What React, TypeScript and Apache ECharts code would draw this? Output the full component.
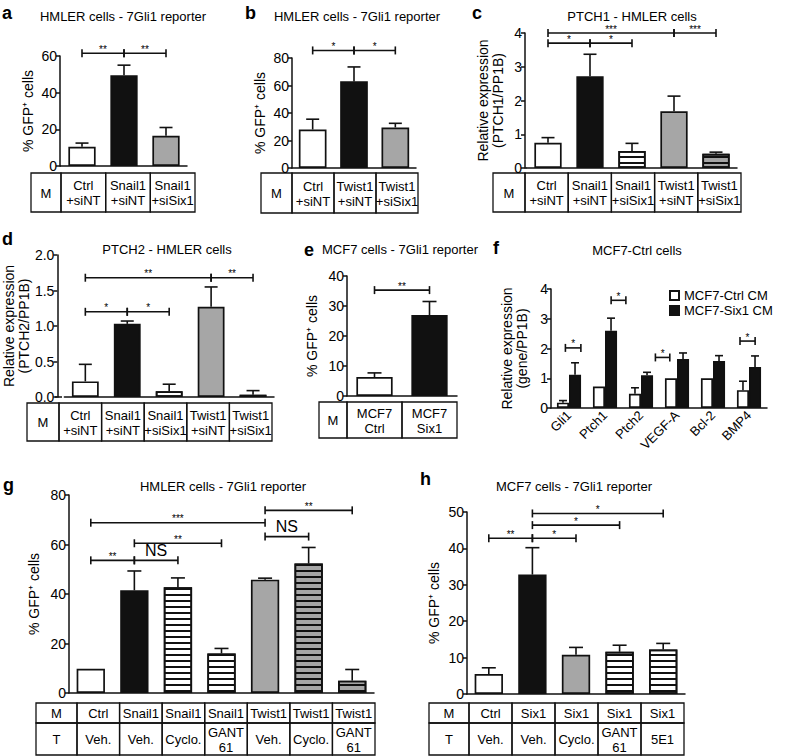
import React, { useEffect, useRef } from 'react';
import * as echarts from 'echarts';

const FONT = '"Liberation Sans", Arial, Helvetica, sans-serif';

// ---------- Panel a ----------
const aCategories = ['Ctrl\n+siNT', 'Snail1\n+siNT', 'Snail1\n+siSix1'];
const aMeans = [10.5, 49.5, 16.5];
const aErrors = [2, 5.5, 4.5];
const aFills = ['white', 'black', 'grey'];
const aTicks = [0, 20, 40, 60];
const aBrackets: [number, number, number, string][] = [[0, 1, 61.5, '**'], [1, 2, 61.5, '**']];

// ---------- Panel b ----------
const bCategories = ['Ctrl\n+siNT', 'Twist1\n+siNT', 'Twist1\n+siSix1'];
const bMeans = [28, 63, 29.5];
const bErrors = [7.5, 10.5, 3];
const bFills = ['white', 'black', 'grey'];
const bTicks = [0, 20, 40, 60, 80];
const bBrackets: [number, number, number, string][] = [[0, 1, 85.5, '*'], [1, 2, 85.5, '*']];

// ---------- Panel c ----------
const cCategories = ['Ctrl\n+siNT', 'Snail1\n+siNT', 'Snail1\n+siSix1', 'Twist1\n+siNT', 'Twist1\n+siSix1'];
const cMeans = [0.75, 2.72, 0.5, 1.68, 0.42];
const cErrors = [0.15, 0.65, 0.23, 0.45, 0.05];
const cFills = ['white', 'black', 'stripe', 'grey', 'greyStripe'];
const cTicks = [0, 1, 2, 3, 4];
const cBrackets: [number, number, number, string][] = [
  [0, 3, 4.0, '***'], [3, 4, 4.0, '***'], [0, 1, 3.7, '*'], [1, 2, 3.7, '*'],
];

// ---------- Panel d ----------
const dCategories = ['Ctrl\n+siNT', 'Snail1\n+siNT', 'Snail1\n+siSix1', 'Twist1\n+siNT', 'Twist1\n+siSix1'];
const dMeans = [0.22, 1.03, 0.08, 1.27, 0.03];
const dErrors = [0.24, 0.04, 0.1, 0.28, 0.06];
const dFills = ['white', 'black', 'stripe', 'grey', 'greyStripe'];
const dTicks = [0, 0.5, 1.0, 1.5, 2.0];
const dBrackets: [number, number, number, string][] = [
  [0, 3, 1.68, '**'], [3, 4, 1.68, '**'], [0, 1, 1.2, '*'], [1, 2, 1.2, '*'],
];

// ---------- Panel e ----------
const eCategories = ['MCF7\nCtrl', 'MCF7\nSix1'];
const eMeans = [6.3, 27];
const eErrors = [1.4, 4.5];
const eFills = ['white', 'black'];
const eTicks = [0, 10, 20, 30, 40];
const eBrackets: [number, number, number, string][] = [[0, 1, 35.3, '**']];

// ---------- Panel f ----------
const fCategories = ['Gli1', 'Ptch1', 'Ptch2', 'VEGF-A', 'Bcl-2', 'BMP4'];
const fCtrlMeans = [0.18, 0.72, 0.48, 1.0, 1.0, 0.6];
const fCtrlErrors = [0.07, 0, 0.2, 0, 0, 0.3];
const fSix1Means = [1.12, 2.6, 1.1, 1.65, 1.58, 1.38];
const fSix1Errors = [0.4, 0.42, 0.1, 0.2, 0.18, 0.37];
const fSeriesNames = ['MCF7-Ctrl CM', 'MCF7-Six1 CM'];
const fTicks = [0, 1, 2, 3, 4];
const fBrackets: [number, number, number, string][] = [
  [-0.1, 0.33, 2.02, '*'], [1.17, 1.58, 3.62, '*'], [2.4, 2.8, 1.7, '*'], [4.75, 5.17, 2.25, '*'],
];

// ---------- Panel g ----------
const gMRow = ['Ctrl', 'Snail1', 'Snail1', 'Snail1', 'Twist1', 'Twist1', 'Twist1'];
const gTRow = ['Veh.', 'Veh.', 'Cyclo.', 'GANT\n61', 'Veh.', 'Cyclo.', 'GANT\n61'];
const gMeans = [9.8, 41.5, 42.7, 16, 45.8, 52.3, 5];
const gErrors = [0, 7.8, 3.8, 2, 0.6, 6.5, 4.5];
const gFills = ['white', 'black', 'stripe', 'stripe', 'grey', 'greyStripe', 'greyStripe'];
const gTicks = [0, 20, 40, 60, 80];
const gBrackets: [number, number, number, string][] = [
  [4, 6, 73.8, '**'], [0, 4, 68.8, '***'], [4, 5, 63.2, 'NS'],
  [1, 3, 60.5, '**'], [0, 1, 53.6, '**'], [1, 2, 53.6, 'NS'],
];

// ---------- Panel h ----------
const hMRow = ['Ctrl', 'Six1', 'Six1', 'Six1', 'Six1'];
const hTRow = ['Veh.', 'Veh.', 'Cyclo.', 'GANT\n61', '5E1'];
const hMeans = [5.5, 32.8, 10.8, 11.6, 12.2];
const hErrors = [1.7, 7.4, 2, 1.8, 1.7];
const hFills = ['white', 'black', 'grey', 'stripe', 'stripe'];
const hTicks = [0, 10, 20, 30, 40, 50];
const hBrackets: [number, number, number, string][] = [
  [1, 4, 49.6, '*'], [1, 3, 46.4, '*'], [0, 1, 42.8, '**'], [1, 2, 42.8, '*'],
];

const GFP = '% GFP\u207A cells';

type SeriesDef = { name?: string; means: number[]; errs: number[]; fills: string[] };
type RowDef = { top: number; bottom: number; head: string; cells: string[] };
type PanelDef = {
  letter: string; letterPos: [number, number];
  title: string; titlePos: [number, number];
  cats: string[]; ticks: number[]; fmt?: (v: number) => string;
  yName: string; nameGap: number;
  axisX: number; gridL: number; gridW: number; top: number; y0: number;
  gap: number; cap: number;
  series: SeriesDef[];
  brackets: [number, number, number, string][];
  table: { left: number; mEnd: number; right: number; rows: RowDef[] } | null;
  xLabels?: boolean;
};

const panels: PanelDef[] = [
  {
    letter: 'a', letterPos: [2, 2], title: 'HMLER cells - 7Gli1 reporter', titlePos: [123, 16],
    cats: aCategories, ticks: aTicks, yName: GFP, nameGap: 25,
    axisX: 60, gridL: 61, gridW: 126, top: 56, y0: 166, gap: 0.35, cap: 6.5,
    series: [{ means: aMeans, errs: aErrors, fills: aFills }], brackets: aBrackets,
    table: { left: 31, mEnd: 61, right: 195, rows: [{ top: 173, bottom: 212, head: 'M', cells: aCategories }] },
  },
  {
    letter: 'b', letterPos: [245, 2], title: 'HMLER cells - 7Gli1 reporter', titlePos: [357, 16],
    cats: bCategories, ticks: bTicks, yName: GFP, nameGap: 25,
    axisX: 292, gridL: 292, gridW: 124, top: 58, y0: 168, gap: 0.33, cap: 6.5,
    series: [{ means: bMeans, errs: bErrors, fills: bFills }], brackets: bBrackets,
    table: { left: 261, mEnd: 292, right: 418, rows: [{ top: 173, bottom: 213, head: 'M', cells: bCategories }] },
  },
  {
    letter: 'c', letterPos: [472, 2], title: 'PTCH1 - HMLER cells', titlePos: [632, 16],
    cats: cCategories, ticks: cTicks, yName: 'Relative expression\n(PTCH1/PP1B)', nameGap: 20,
    axisX: 525, gridL: 527, gridW: 210, top: 33, y0: 168, gap: 0.35, cap: 6.5,
    series: [{ means: cMeans, errs: cErrors, fills: cFills }], brackets: cBrackets,
    table: { left: 493, mEnd: 525, right: 741, rows: [{ top: 173, bottom: 212, head: 'M', cells: cCategories }] },
  },
  {
    letter: 'd', letterPos: [2, 228], title: 'PTCH2 - HMLER cells', titlePos: [167, 249],
    cats: dCategories, ticks: dTicks, fmt: (v) => v.toFixed(1),
    yName: 'Relative expression\n(PTCH2/PP1B)', nameGap: 26,
    axisX: 55, gridL: 62, gridW: 212, top: 255, y0: 397, gap: 0.36, cap: 6.5,
    series: [{ means: dMeans, errs: dErrors, fills: dFills }], brackets: dBrackets,
    table: { left: 27, mEnd: 59, right: 272, rows: [{ top: 403, bottom: 441, head: 'M', cells: dCategories }] },
  },
  {
    letter: 'e', letterPos: [304, 239], title: 'MCF7 cells - 7Gli1 reporter', titlePos: [400, 249],
    cats: eCategories, ticks: eTicks, yName: GFP, nameGap: 28,
    axisX: 347, gridL: 347, gridW: 110, top: 276, y0: 396, gap: 0.34, cap: 7,
    series: [{ means: eMeans, errs: eErrors, fills: eFills }], brackets: eBrackets,
    table: { left: 319, mEnd: 347, right: 457, rows: [{ top: 402, bottom: 438, head: 'M', cells: eCategories }] },
  },
  {
    letter: 'f', letterPos: [493, 237], title: 'MCF7-Ctrl cells', titlePos: [637, 250],
    cats: fCategories, ticks: fTicks, yName: 'Relative expression\n(gene/PP1B)', nameGap: 22,
    axisX: 551, gridL: 551, gridW: 216, top: 289, y0: 408, gap: 0.33, cap: 4,
    series: [
      { name: fSeriesNames[0], means: fCtrlMeans, errs: fCtrlErrors, fills: fCtrlMeans.map(() => 'white') },
      { name: fSeriesNames[1], means: fSix1Means, errs: fSix1Errors, fills: fSix1Means.map(() => 'black') },
    ],
    brackets: fBrackets, table: null, xLabels: true,
  },
  {
    letter: 'g', letterPos: [3, 474], title: 'HMLER cells - 7Gli1 reporter', titlePos: [223, 486],
    cats: gMRow, ticks: gTicks, yName: GFP, nameGap: 28,
    axisX: 69, gridL: 69, gridW: 305, top: 495, y0: 693, gap: 0.35, cap: 7,
    series: [{ means: gMeans, errs: gErrors, fills: gFills }], brackets: gBrackets,
    table: {
      left: 36, mEnd: 77, right: 375, rows: [
        { top: 703, bottom: 723, head: 'M', cells: gMRow },
        { top: 723, bottom: 755, head: 'T', cells: gTRow },
      ],
    },
  },
  {
    letter: 'h', letterPos: [420, 468], title: 'MCF7 cells - 7Gli1 reporter', titlePos: [574, 486],
    cats: hMRow, ticks: hTicks, yName: GFP, nameGap: 26,
    axisX: 467, gridL: 467, gridW: 218, top: 512, y0: 694, gap: 0.35, cap: 7,
    series: [{ means: hMeans, errs: hErrors, fills: hFills }], brackets: hBrackets,
    table: {
      left: 429, mEnd: 469, right: 684, rows: [
        { top: 703, bottom: 723, head: 'M', cells: hMRow },
        { top: 723, bottom: 755, head: 'T', cells: hTRow },
      ],
    },
  },
];

const GREY = '#a6a6a6';
const INK = '#111';

function fillStyle(kind: string): any {
  const border = { borderColor: INK, borderWidth: 1.7 };
  const stripes = { symbol: 'rect', symbolSize: 1, dashArrayX: [1, 0], dashArrayY: [2, 4], rotation: 0, color: INK };
  switch (kind) {
    case 'black': return { color: INK, ...border };
    case 'grey': return { color: GREY, ...border };
    case 'stripe': return { color: '#fff', ...border, decal: stripes };
    case 'greyStripe': return { color: GREY, ...border, decal: stripes };
    default: return { color: '#fff', ...border };
  }
}

function txt(x: number, y: number, text: string, size: number, align: string, vAlign: string, weight = 'normal', lineHeight?: number): any {
  return {
    type: 'text', x, y, silent: true,
    style: {
      text, fill: '#000', fontSize: size, fontFamily: FONT, fontWeight: weight,
      align, verticalAlign: vAlign, textAlign: align, textVerticalAlign: vAlign,
      lineHeight: lineHeight || Math.round(size * 1.15),
    },
  };
}

function buildOption(): any {
  const grid: any[] = [];
  const xAxis: any[] = [];
  const yAxis: any[] = [];
  const series: any[] = [];
  const graphics: any[] = [];
  const axisLineStyle = { color: INK, width: 1.5 };

  panels.forEach((p, i) => {
    grid.push({ left: p.gridL, top: p.top, width: p.gridW, height: p.y0 - p.top });
    xAxis.push({
      gridIndex: i, type: 'category', data: p.cats,
      axisLine: { show: true, onZero: false, lineStyle: axisLineStyle },
      axisTick: { show: false },
      axisLabel: p.xLabels
        ? { show: true, interval: 0, rotate: 45, fontSize: 13, fontFamily: FONT, color: '#000', margin: 5 }
        : { show: false },
      splitLine: { show: false },
    });
    const t = p.ticks;
    yAxis.push({
      gridIndex: i, type: 'value', min: t[0], max: t[t.length - 1], interval: t[1] - t[0],
      offset: p.gridL - p.axisX,
      axisLine: { show: true, lineStyle: axisLineStyle },
      axisTick: { show: true, length: 4, lineStyle: axisLineStyle },
      axisLabel: { color: '#000', fontSize: 14, fontFamily: FONT, margin: 3, formatter: p.fmt ? (v: number) => p.fmt!(v) : undefined },
      splitLine: { show: false },
      name: p.yName, nameLocation: 'middle', nameRotate: 90, nameGap: p.nameGap,
      nameTextStyle: { color: '#000', fontSize: 14, fontFamily: FONT, lineHeight: 15 },
    });

    const nS = p.series.length;
    p.series.forEach((s, k) => {
      series.push({
        type: 'bar', name: s.name, xAxisIndex: i, yAxisIndex: i,
        barCategoryGap: `${p.gap * 100}%`, barGap: '0%', z: 2, silent: true,
        itemStyle: fillStyle(s.fills[0]),
        data: s.means.map((v, j) => ({ value: v, itemStyle: fillStyle(s.fills[j]) })),
      });
      series.push({
        type: 'custom', xAxisIndex: i, yAxisIndex: i, z: 3, silent: true,
        itemStyle: { color: INK },
        data: s.means.map((v, j) => [j, v, s.errs[j]]),
        renderItem: (params: any, api: any) => {
          const j = api.value(0);
          const m = api.value(1);
          const e = api.value(2);
          if (!e) return null;
          const band = api.size([1, 0])[0];
          const bw = (band * (1 - p.gap)) / nS;
          const off = (k - (nS - 1) / 2) * bw;
          const b = api.coord([j, m]);
          const tp = api.coord([j, m + e]);
          const x = b[0] + off;
          const st = { stroke: INK, lineWidth: 1.6 };
          return {
            type: 'group', children: [
              { type: 'line', shape: { x1: x, y1: b[1], x2: x, y2: tp[1] }, style: st },
              { type: 'line', shape: { x1: x - p.cap, y1: tp[1], x2: x + p.cap, y2: tp[1] }, style: st },
            ],
          };
        },
      });
    });

    if (p.brackets.length) {
      series.push({
        type: 'custom', xAxisIndex: i, yAxisIndex: i, z: 4, silent: true, clip: false,
        itemStyle: { color: INK },
        data: p.brackets.map((br) => [0, br[2]]),
        renderItem: (params: any, api: any) => {
          const br = p.brackets[params.dataIndex];
          const band = api.size([1, 0])[0];
          const x0 = api.coord([0, 0])[0];
          const y = api.coord([0, br[2]])[1];
          const x1 = x0 + br[0] * band;
          const x2 = x0 + br[1] * band;
          const isNS = br[3] === 'NS';
          const st = { stroke: INK, lineWidth: 1.6 };
          return {
            type: 'group', children: [
              { type: 'line', shape: { x1, y1: y, x2, y2: y }, style: st },
              { type: 'line', shape: { x1, y1: y - 4, x2: x1, y2: y + 4 }, style: st },
              { type: 'line', shape: { x1: x2, y1: y - 4, x2, y2: y + 4 }, style: st },
              {
                type: 'text',
                style: {
                  text: br[3], x: (x1 + x2) / 2, y: isNS ? y - 2 : y + 1,
                  align: 'center', verticalAlign: 'bottom', fill: '#000',
                  fontSize: isNS ? 16 : 10, fontFamily: FONT,
                },
              },
            ],
          };
        },
      });
    }

    graphics.push(txt(p.letterPos[0], p.letterPos[1], p.letter, 18, 'left', 'top', 'bold'));
    graphics.push(txt(p.titlePos[0], p.titlePos[1], p.title, 13, 'center', 'middle'));

    if (p.axisX < p.gridL) {
      graphics.push({
        type: 'line', silent: true,
        shape: { x1: p.axisX, y1: p.y0, x2: p.gridL, y2: p.y0 },
        style: { stroke: INK, lineWidth: 1.5 },
      });
    }

    if (p.table) {
      const tb = p.table;
      const n = p.cats.length;
      const w = (tb.right - tb.mEnd) / n;
      const cols = [tb.left, tb.mEnd];
      for (let c = 1; c <= n; c++) cols.push(tb.mEnd + c * w);
      tb.rows.forEach((row) => {
        const texts = [row.head, ...row.cells];
        texts.forEach((tx, c) => {
          graphics.push({
            type: 'rect', silent: true,
            shape: { x: cols[c], y: row.top, width: cols[c + 1] - cols[c], height: row.bottom - row.top },
            style: { fill: 'none', stroke: INK, lineWidth: 1.3 },
          });
          graphics.push(txt((cols[c] + cols[c + 1]) / 2, (row.top + row.bottom) / 2 + 0.5, tx, 13, 'center', 'middle', 'normal', 15));
        });
      });
    }
  });

  return {
    animation: false,
    backgroundColor: '#fff',
    textStyle: { fontFamily: FONT },
    grid, xAxis, yAxis, series,
    legend: {
      data: fSeriesNames, left: 664, top: 284, orient: 'vertical',
      itemWidth: 9, itemHeight: 9, itemGap: 2, icon: 'rect', selectedMode: false,
      textStyle: { fontSize: 13, color: '#000', fontFamily: FONT },
    },
    graphic: { elements: graphics },
  };
}

export default function App() {
  const ref = useRef<HTMLDivElement>(null);
  useEffect(() => {
    const chart = echarts.init(ref.current!, null, { renderer: 'svg', width: 788, height: 756 });
    chart.setOption(buildOption());
    return () => chart.dispose();
  }, []);
  return (
    <div
      ref={ref}
      style={{ position: 'fixed', left: 0, top: 0, width: 788, height: 756, background: '#fff' }}
    />
  );
}
